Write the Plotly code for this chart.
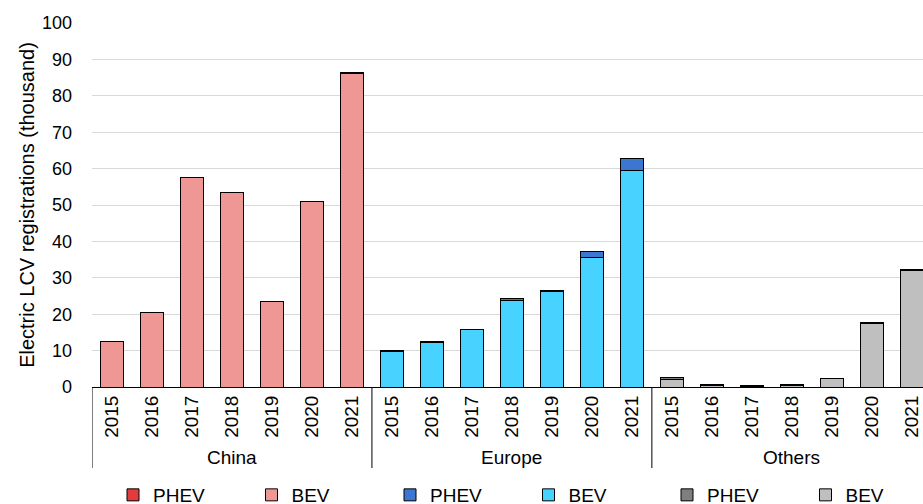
import plotly.graph_objects as go

years = ["2015", "2016", "2017", "2018", "2019", "2020", "2021"]
regions = ["China", "Europe", "Others"]

china_bev = [12.4, 20.6, 57.6, 53.3, 23.4, 51.0, 86.0]
china_phev = [0.0, 0.0, 0.0, 0.0, 0.0, 0.0, 0.3]
europe_bev = [9.8, 12.3, 15.7, 23.9, 26.2, 35.7, 59.4]
europe_phev = [0.2, 0.3, 0.2, 0.3, 0.4, 1.4, 3.3]
others_bev = [2.1, 0.3, 0.2, 0.3, 2.2, 17.5, 32.1]
others_phev = [0.6, 0.3, 0.2, 0.4, 0.1, 0.1, 0.1]

y_ticks = [0, 10, 20, 30, 40, 50, 60, 70, 80, 90, 100]

colors = {
    ("China", "PHEV"): "#e03c3c",
    ("China", "BEV"): "#ee9795",
    ("Europe", "PHEV"): "#3b76d0",
    ("Europe", "BEV"): "#48d2ff",
    ("Others", "PHEV"): "#7f7f7f",
    ("Others", "BEV"): "#bfbfbf",
}

series = [
    ("China", "BEV", china_bev, 2),
    ("China", "PHEV", china_phev, 1),
    ("Europe", "BEV", europe_bev, 4),
    ("Europe", "PHEV", europe_phev, 3),
    ("Others", "BEV", others_bev, 6),
    ("Others", "PHEV", others_phev, 5),
]

FONT = "Liberation Sans, Arial, sans-serif"

def cats(region):
    return [f"{region} {y}" for y in years]

all_cats = [c for r in regions for c in cats(r)]
all_ticktext = [y for r in regions for y in years]

fig = go.Figure()
for region, kind, vals, rank in series:
    fig.add_trace(go.Bar(
        x=cats(region),
        y=vals,
        name=kind,
        legendrank=rank,
        marker=dict(color=colors[(region, kind)], line=dict(color="black", width=1)),
        hovertemplate=region + " %{x}<br>" + kind + ": %{y}<extra></extra>",
    ))

n = len(years)
shapes = []
annotations = []
for gi, region in enumerate(regions):
    shapes.append(dict(
        type="line", xref="x", yref="paper",
        x0=gi * n - 0.5, x1=gi * n - 0.5, y0=0, y1=-0.2225,
        line=dict(color="black", width=1),
    ))
    annotations.append(dict(
        text=region, xref="x", yref="paper",
        x=gi * n + (n - 1) / 2, y=-0.195,
        xanchor="center", yanchor="middle", showarrow=False,
        font=dict(size=19, color="black", family=FONT),
    ))
shapes.append(dict(
    type="line", xref="x", yref="paper",
    x0=len(regions) * n - 0.5, x1=len(regions) * n - 0.5, y0=0, y1=-0.2225,
    line=dict(color="black", width=1),
))

fig.update_layout(
    width=923,
    height=504,
    barmode="stack",
    bargap=0.42,
    plot_bgcolor="white",
    paper_bgcolor="white",
    font=dict(family=FONT, size=19, color="black"),
    margin=dict(l=92, r=0, t=23, b=117, autoexpand=False),
    legend=dict(
        orientation="h",
        xref="container", yref="container",
        x=113 / 923, xanchor="left",
        y=(504 - 476) / 504, yanchor="top",
        entrywidth=93.5, entrywidthmode="pixels",
        font=dict(size=19),
        itemclick=False, itemdoubleclick=False,
        traceorder="normal",
    ),
    showlegend=True,
    shapes=shapes,
    annotations=annotations,
)

fig.update_xaxes(
    type="category",
    categoryorder="array", categoryarray=all_cats,
    tickvals=all_cats, ticktext=all_ticktext,
    range=[-0.5, 20.28],
    showline=True, linecolor="black", linewidth=1,
    ticks="", tickangle=-90,
    showgrid=False,
    tickfont=dict(size=19),
)

fig.update_yaxes(
    range=[0, 100],
    tickvals=y_ticks,
    showgrid=True, gridcolor="#d9d9d9", gridwidth=1.3,
    zeroline=False, showline=False, ticks="",
    ticklabelstandoff=19,
    title=dict(text="Electric LCV registrations (thousand)", standoff=1, font=dict(size=20)),
    tickfont=dict(size=18),
)

fig.write_html(
    "out.html",
    config={"displayModeBar": False},
    post_script="document.body.style.margin='0';",
)
